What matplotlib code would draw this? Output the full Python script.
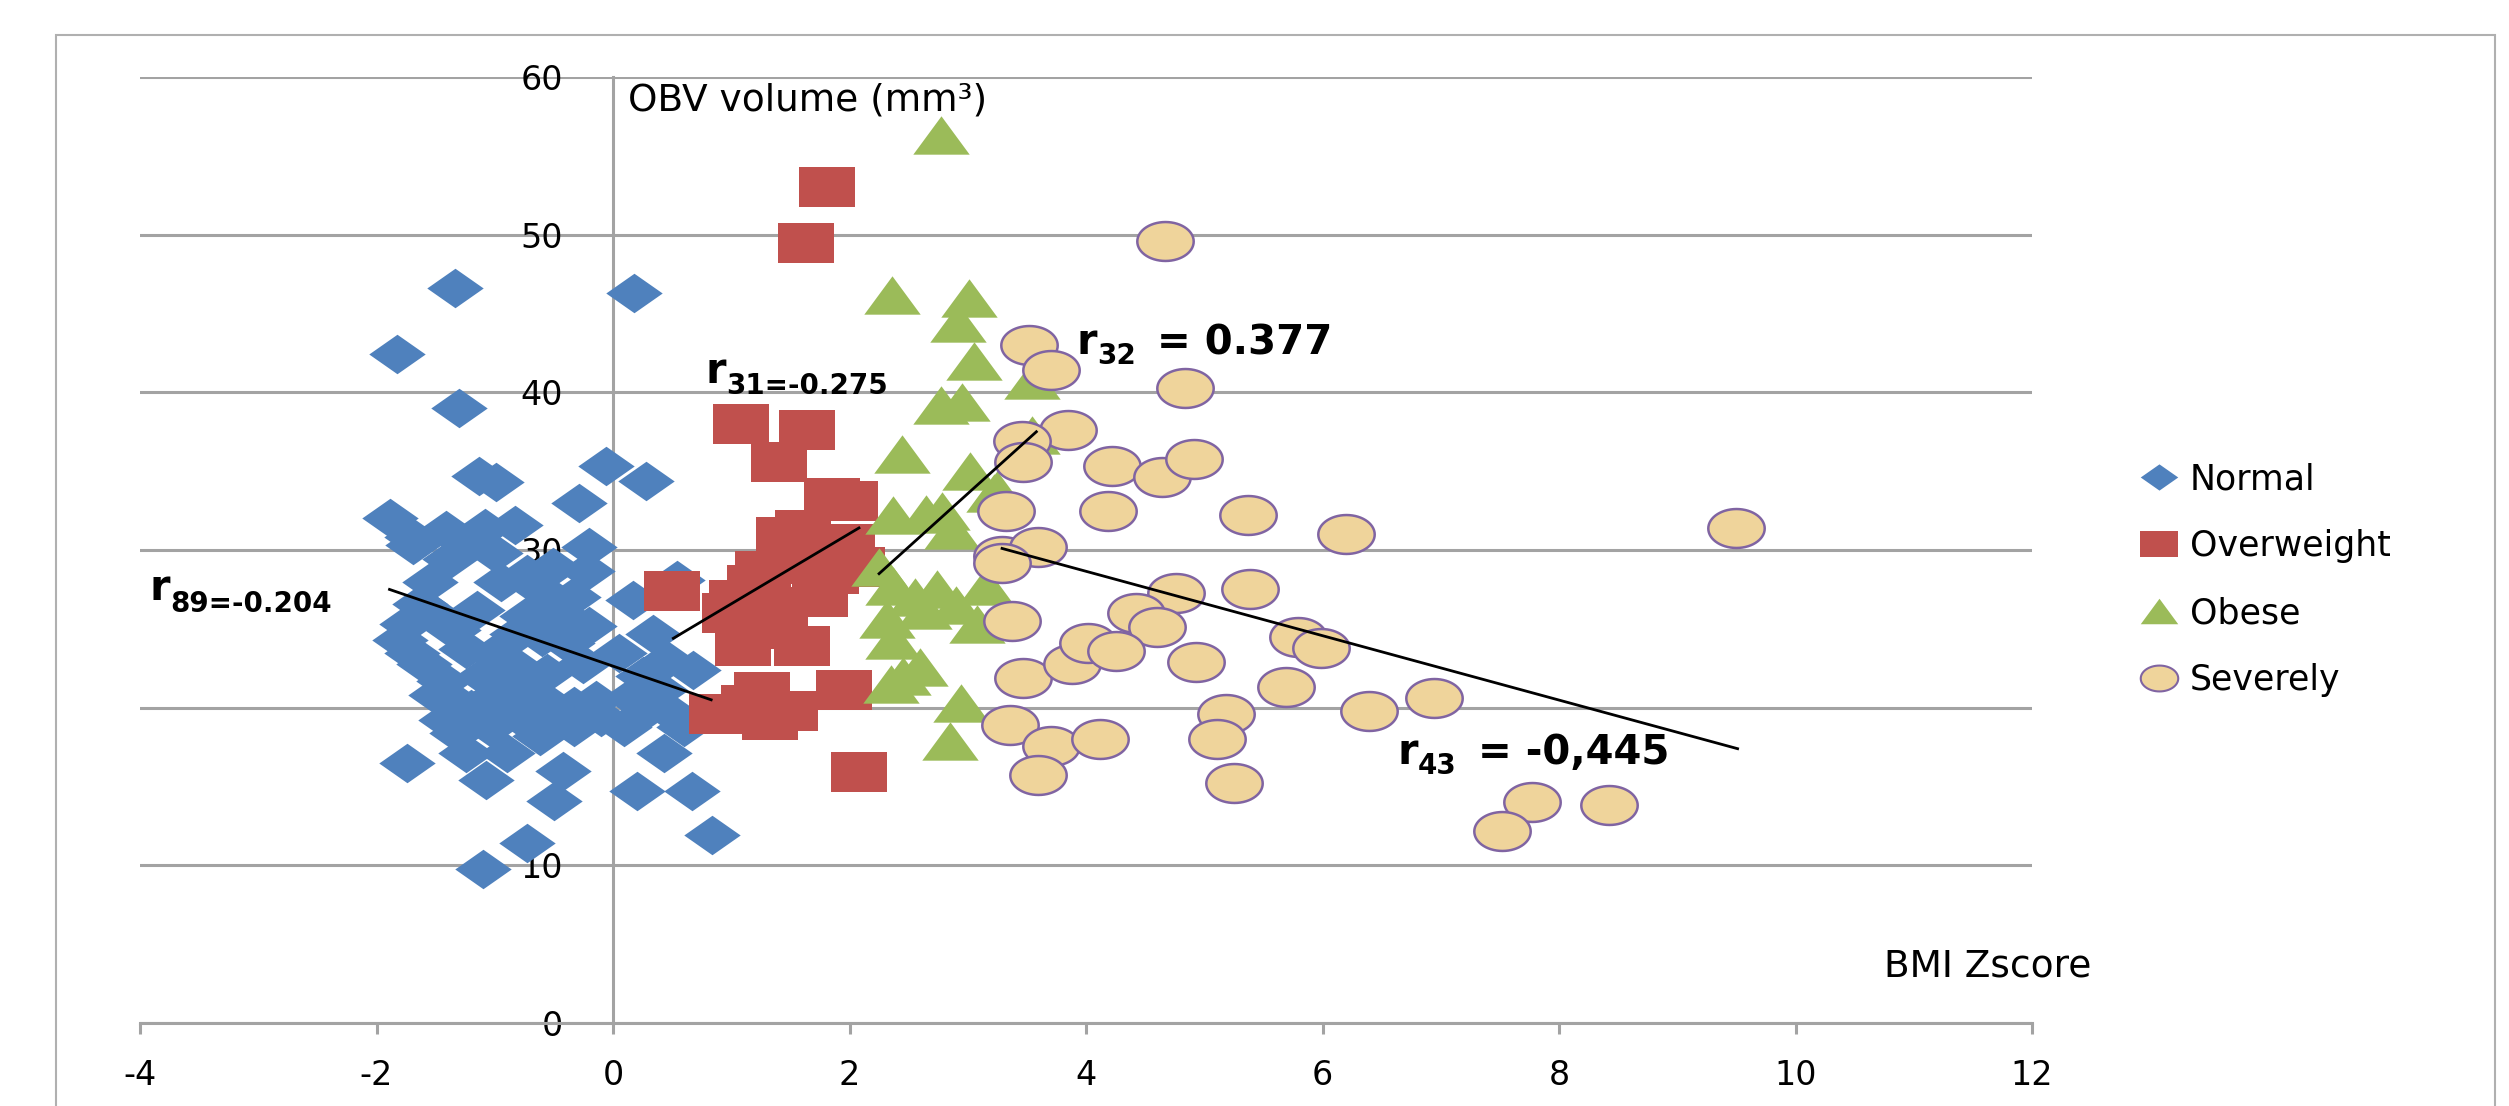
import numpy as np
import matplotlib
matplotlib.use("Agg")
import matplotlib.pyplot as plt
from matplotlib.path import Path
from matplotlib.lines import Line2D
from matplotlib.patches import Rectangle

plt.rcParams['font.family'] = ['DejaVu Sans']
plt.rcParams['axes.unicode_minus'] = False

# BMI z-score / OBV volume readings, per group
normal_x = [-1.34, 0.18, -1.83, -1.30, -1.13, -0.99, -0.06, 0.28, -0.29, -1.89,
            -1.70, -1.41, -1.08, -0.83, -1.19, -0.20, -1.38,
            -0.73, -0.51, -0.22, -0.62, -0.34, 0.17, 0.54, -1.63, -1.74,
            -1.49, -0.73, -0.81, 0.34, -1.80, -1.24, -0.39, -1.60, -1.43,
            -1.01, -0.81, -0.56, 0.46, 0.68, -1.32, -0.98, -0.62, -0.33,
            -0.14, 0.15, 0.40, 0.51, -1.41, -1.04, -0.67, -0.33, 0.09, 0.60,
            -1.32, -0.62, -1.24, -0.90, 0.43, -1.74, -1.07, -0.42, -0.50,
            0.20, 0.67, 0.84, -0.73, -1.10,
            -1.55, -0.95, -0.45, -1.15, -0.60, -1.35, -0.20, -1.70, -1.10,
            -0.25, 0.05, -1.50, -0.80, -0.10, 0.30, -1.20, -0.45, -0.85,
            0.25, -1.00, -1.69]
normal_y = [46.6, 46.3, 42.4, 39.0, 34.7, 34.3, 35.3, 34.4, 33.0, 32.0,
            30.8, 31.3, 31.4, 31.6, 30.5, 30.2, 29.4,
            28.5, 28.9, 28.7, 27.5, 27.0, 26.8, 28.1, 26.6, 25.3,
            25.8, 25.8, 24.7, 24.7, 24.3, 23.7, 24.1, 22.8, 21.7,
            23.4, 22.6, 22.2, 23.0, 22.4, 20.3, 20.9, 20.7, 20.1,
            20.5, 20.7, 21.1, 19.6, 19.2, 18.8, 18.8, 18.8, 18.8, 18.8,
            18.4, 18.2, 17.1, 17.1, 17.1, 16.5, 15.4, 16.0, 14.1,
            14.7, 14.7, 11.9, 11.4, 9.8,
            28.0, 28.0, 26.0, 26.2, 24.5, 24.9, 25.2, 23.5, 22.0,
            22.8, 23.5, 20.8, 19.9, 19.4, 19.9, 19.9, 19.5, 21.5,
            22.0, 29.8, 30.3]

over_x = [1.81, 1.63, 1.08, 1.64, 1.40, 1.85, 2.00, 1.61, 1.98, 1.27, 1.58,
          1.84, 2.06, 0.50, 1.05, 1.41, 0.99, 1.10, 1.60, 1.26, 1.95, 0.88,
          1.50, 1.33, 2.08, 1.45, 1.20, 1.75, 1.30, 1.15, 1.70]
over_y = [53.0, 49.5, 38.0, 37.6, 35.6, 33.3, 33.1, 31.3, 30.4, 28.7, 29.1,
          28.5, 28.9, 27.4, 26.8, 26.4, 26.0, 23.9, 23.9, 21.0, 21.1, 19.6,
          19.8, 19.2, 15.9, 30.8, 27.8, 27.0, 25.0, 20.2, 29.8]

obese_x = [2.77, 2.36, 3.01, 2.92, 3.05, 3.54, 2.77, 2.95, 2.44, 3.02, 3.54,
           3.25, 2.37, 2.65, 2.78, 2.87, 3.22, 2.25, 2.37, 2.74, 3.15, 2.63,
           2.32, 3.08, 2.37, 2.60, 2.35, 2.94, 2.85, 2.55, 2.45, 2.90]
obese_y = [56.3, 46.2, 46.0, 44.4, 42.0, 40.8, 39.2, 39.4, 36.1, 35.0, 37.3,
           33.8, 32.2, 32.3, 32.5, 31.3, 33.6, 28.9, 27.7, 27.5, 27.7, 26.2,
           25.6, 25.3, 24.3, 22.6, 21.5, 20.3, 17.9, 27.0, 22.0, 26.5]

sev_x = [3.52, 3.70, 3.85, 3.46, 3.47, 3.32, 3.29, 3.59, 3.29, 3.37, 3.47,
         3.88, 4.02, 3.36, 3.70, 3.59, 4.12, 4.67, 4.84, 4.22, 4.64, 4.91,
         4.19, 5.37, 6.20, 4.76, 5.39, 4.42, 4.60, 4.25, 4.93, 5.79, 5.99,
         5.69, 6.39, 6.94, 5.18, 5.11, 5.25, 9.50, 7.77, 7.52, 8.42]
sev_y = [43.0, 41.4, 37.6, 36.9, 35.6, 32.5, 29.6, 30.2, 29.2, 25.5, 21.9,
         22.8, 24.1, 18.9, 17.6, 15.7, 18.0, 49.6, 40.3, 35.3, 34.6, 35.8,
         32.5, 32.2, 31.0, 27.3, 27.5, 26.0, 25.1, 23.6, 22.9, 24.5, 23.8,
         21.3, 19.8, 20.6, 19.6, 18.0, 15.2, 31.4, 14.0, 12.2, 13.8]

group_names = ['Normal', 'Overweight', 'Obese', 'Severely']

# trend lines (start, end) and their r labels
trend_lines = [((-1.89, 27.5), (0.83, 20.5)),
               ((0.51, 24.4), (2.08, 31.4)),
               ((2.25, 28.5), (3.58, 37.5)),
               ((3.29, 30.1), (9.51, 17.4))]

x_ticks = [-4, -2, 0, 2, 4, 6, 8, 10, 12]
y_ticks = [0, 10, 20, 30, 40, 50, 60]


def closed(verts):
    verts = list(verts) + [verts[0]]
    codes = [Path.MOVETO] + [Path.LINETO] * (len(verts) - 2) + [Path.CLOSEPOLY]
    return Path(verts, codes)


# picture is stretched sideways, so markers are wider than tall
diamond = closed([(-1, 0), (0, 0.7), (1, 0), (0, -0.7)])
square = closed([(-1, -0.7), (1, -0.7), (1, 0.7), (-1, 0.7)])
triangle = closed([(-1, -0.68), (1, -0.68), (0, 0.68)])
t = np.linspace(0, 2 * np.pi, 61)[:-1]
ellipse = closed(list(zip(np.cos(t), 0.69 * np.sin(t))))

blue = '#4F81BD'
red = '#C0504D'
green = '#9BBB59'
tan = '#EFD49B'
purple = '#8064A2'
grid_grey = '#A3A3A3'

fig = plt.figure(figsize=(25.09, 11.06), dpi=100)
ax = fig.add_axes([0.0558, 0.0750, 0.7541, 0.8554])

size = 1650
ax.scatter(normal_x, normal_y, s=size, marker=diamond, c=blue, linewidths=0, zorder=3)
ax.scatter(over_x, over_y, s=size, marker=square, c=red, linewidths=0, zorder=3)
ax.scatter(obese_x, obese_y, s=size, marker=triangle, c=green, linewidths=0, zorder=3)
ax.scatter(sev_x, sev_y, s=size, marker=ellipse, c=tan, edgecolors=purple,
           linewidths=1.8, zorder=3)

for (x0, y0), (x1, y1) in trend_lines:
    ax.plot([x0, x1], [y0, y1], color='black', lw=2, zorder=4)

ax.set_xlim(-4, 12)
ax.set_ylim(0, 60)
ax.set_xticks(x_ticks)
ax.set_yticks(y_ticks)
ax.yaxis.grid(True, color=grid_grey, lw=2.2, zorder=0)
ax.set_axisbelow(True)

for s in ['top', 'right']:
    ax.spines[s].set_visible(False)
ax.spines['left'].set_position(('data', 0))
ax.spines['left'].set_color(grid_grey)
ax.spines['left'].set_linewidth(2.2)
ax.spines['bottom'].set_color(grid_grey)
ax.spines['bottom'].set_linewidth(2.2)

ax.tick_params(axis='y', length=0, pad=36, labelsize=24)
ax.tick_params(axis='x', direction='out', length=8, width=2.2, color=grid_grey,
               pad=18, labelsize=24)

ax.text(0.13, 58.5, 'OBV volume (mm³)', fontsize=27, va='center', ha='left')
ax.text(10.75, 3.6, 'BMI Zscore', fontsize=27, va='center', ha='left')


def r_label(x, y, sub, rest=None, big=30, small=20, sub_dx=15, sub_dy=-8, rest_dx=58):
    ax.text(x, y, 'r', fontsize=big, fontweight='bold', ha='left', va='baseline', zorder=5)
    ax.annotate(sub, xy=(x, y), xytext=(sub_dx, sub_dy), textcoords='offset points',
                fontsize=small, fontweight='bold', ha='left', va='baseline', zorder=5)
    if rest:
        ax.annotate(rest, xy=(x, y), xytext=(rest_dx, 0), textcoords='offset points',
                    fontsize=big - 1, fontweight='bold', ha='left', va='baseline', zorder=5)


r_label(-3.92, 26.8, '89=-0.204')
r_label(0.78, 40.6, '31=-0.275')
r_label(3.92, 42.4, '32', '= 0.377', sub_dy=-7)
r_label(6.63, 16.4, '43', '= -0,445', sub_dy=-7)

# legend
handles = [
    Line2D([], [], ls='', marker=diamond, markersize=27, mfc=blue, mec=blue, mew=0),
    Line2D([], [], ls='', marker=square, markersize=27, mfc=red, mec=red, mew=0),
    Line2D([], [], ls='', marker=triangle, markersize=27, mfc=green, mec=green, mew=0),
    Line2D([], [], ls='', marker=ellipse, markersize=27, mfc=tan, mec=purple, mew=1.5),
]
fig.legend(handles, group_names, loc='center left', bbox_to_anchor=(0.8534, 0.476),
           frameon=False, fontsize=25, handlelength=1.0, handletextpad=0.4,
           labelspacing=0.95, borderpad=0, borderaxespad=0)

# outer chart frame
fig.add_artist(Rectangle((56 / 2509, -0.05), (2495 - 56) / 2509, 0.9684 + 0.05,
                         transform=fig.transFigure, fill=False,
                         edgecolor='#B0B0B0', lw=1.5))

fig.savefig('out.png', dpi=100)
